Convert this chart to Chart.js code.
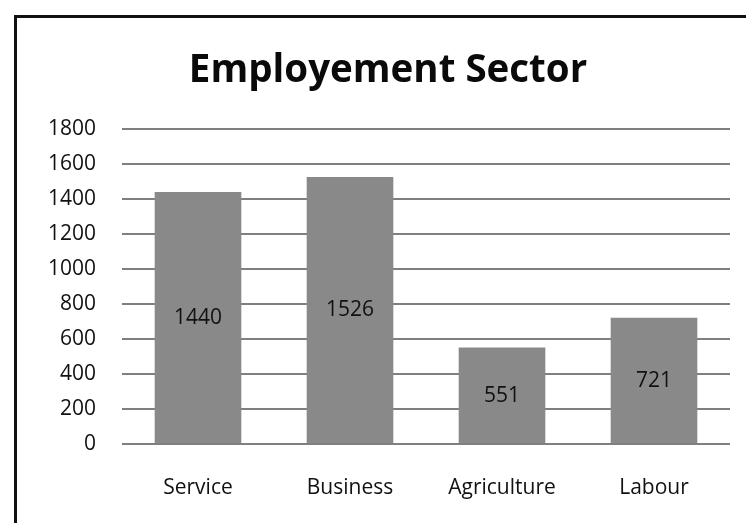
<!DOCTYPE html>
<html>
<head>
<meta charset="utf-8">
<script src="https://cdn.jsdelivr.net/npm/chart.js@4/dist/chart.umd.min.js"></script>
<style>
  html, body { margin: 0; padding: 0; background: #fff; }
  #wrap { width: 746px; height: 523px; position: relative; }
</style>
</head>
<body>
<div id="wrap"><canvas id="c" width="746" height="523"></canvas></div>
<script>
// Employment by sector
const categories = ["Service", "Business", "Agriculture", "Labour"];
const employees = [1440, 1526, 551, 721];
const yTicks = [0, 200, 400, 600, 800, 1000, 1200, 1400, 1600, 1800];
const chartTitle = "Employement Sector";

const FONT = "'Open Sans', sans-serif";

// Frame around the figure (open to the right and bottom edges) plus the heading
const framePlugin = {
  id: "frame",
  afterDraw(chart) {
    const ctx = chart.ctx;
    ctx.save();
    ctx.strokeStyle = "#111";
    ctx.lineWidth = 3;
    ctx.beginPath();
    ctx.moveTo(15.5, 540);
    ctx.lineTo(15.5, 16.5);
    ctx.lineTo(760, 16.5);
    ctx.stroke();

    ctx.font = "bold 38.5px " + FONT;
    ctx.fillStyle = "#0a0a0a";
    ctx.textAlign = "center";
    ctx.textBaseline = "alphabetic";
    ctx.fillText(chartTitle, 388, 82);
    ctx.restore();
  }
};

// Value labels centred inside each bar
const valueLabels = {
  id: "valueLabels",
  afterDatasetsDraw(chart) {
    const ctx = chart.ctx;
    const meta = chart.getDatasetMeta(0);
    const yScale = chart.scales.y;
    ctx.save();
    ctx.font = "21px " + FONT;
    ctx.fillStyle = "#111";
    ctx.textAlign = "center";
    ctx.textBaseline = "middle";
    meta.data.forEach((bar, i) => {
      const v = employees[i];
      const yMid = (yScale.getPixelForValue(v) + yScale.getPixelForValue(0)) / 2;
      ctx.fillText(String(v), bar.x, yMid);
    });
    ctx.restore();
  }
};

new Chart(document.getElementById("c"), {
  type: "bar",
  data: {
    labels: categories,
    datasets: [{
      data: employees,
      backgroundColor: "#898989",
      borderWidth: 0,
      categoryPercentage: 0.57,
      barPercentage: 1.0
    }]
  },
  options: {
    responsive: false,
    animation: false,
    devicePixelRatio: 1,
    layout: { padding: { left: 0, right: 16, top: 129, bottom: 0 } },
    plugins: {
      legend: { display: false },
      tooltip: { enabled: false },
      title: { display: false }
    },
    scales: {
      x: {
        grid: { display: false, drawTicks: false },
        border: { display: false },
        ticks: { color: "#111", font: { family: FONT, size: 21 }, padding: 31 },
        afterFit(scale) { scale.height = 79; }
      },
      y: {
        min: 0,
        max: 1800,
        afterBuildTicks(scale) { scale.ticks = yTicks.map(v => ({ value: v })); },
        grid: { color: "#7f7f7f", lineWidth: 2, drawTicks: false },
        border: { display: false },
        ticks: {
          color: "#111",
          font: { family: FONT, size: 21 },
          padding: 26,
          callback: (v) => String(v)
        },
        afterFit(scale) { scale.width = 122; }
      }
    }
  },
  plugins: [framePlugin, valueLabels]
});
</script>
</body>
</html>
